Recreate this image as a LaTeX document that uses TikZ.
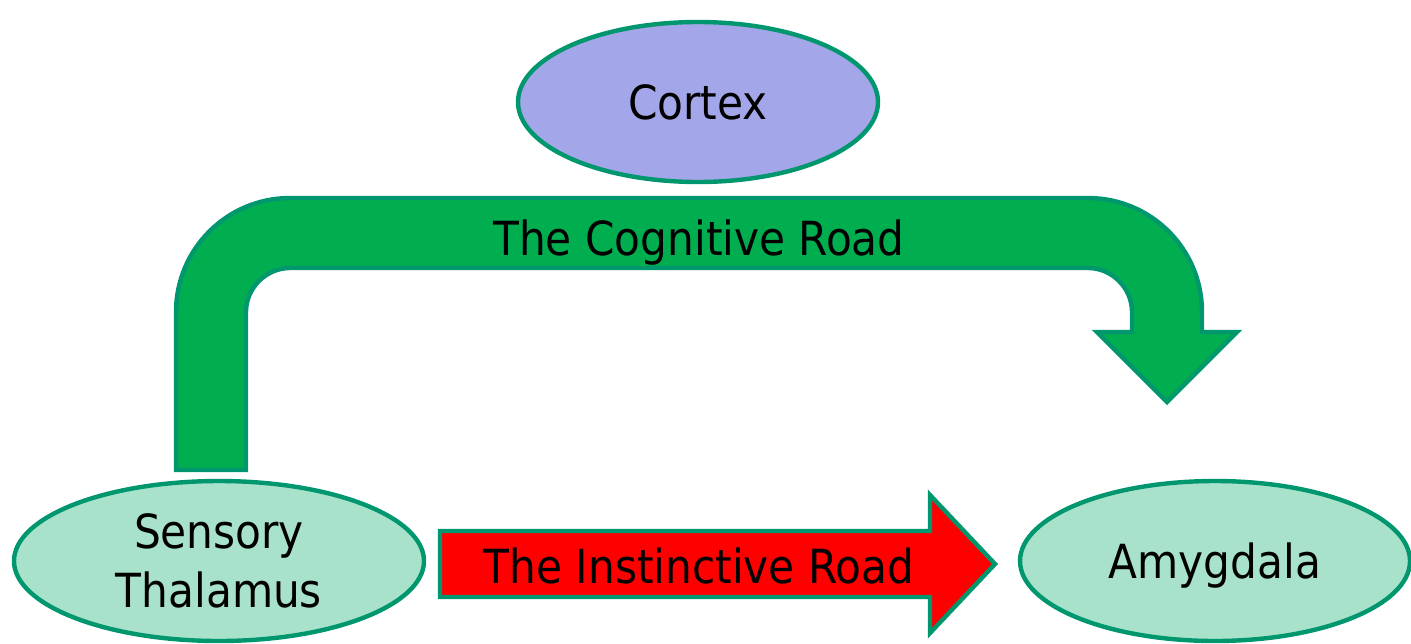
\documentclass[tikz,border=0pt]{standalone}
\usepackage{fontspec}
\setmainfont{DejaVu Sans Condensed}
\usepackage{tikz}
\usetikzlibrary{shapes.geometric,positioning}
\definecolor{softLavender}{RGB}{163,166,232}
\definecolor{softMint}{RGB}{168,226,202}
\definecolor{roadGreen}{RGB}{0,174,80}
\definecolor{edgeGreen}{RGB}{0,150,110}

\begin{document}
\begin{tikzpicture}[
      x=0.5pt, y=-0.5pt,
      region/.style={ellipse, draw=edgeGreen, line width=2.2pt, inner sep=0pt,
        minimum height=80pt, text depth=0pt, align=center,
        font=\fontsize{23.5}{29.5}\selectfont},
      road/.style={draw=edgeGreen, line width=2.2pt, line join=miter},
      roadtext/.style={anchor=base, inner sep=0pt, font=\fontsize{23.5}{29.5}\selectfont}
    ]
      \useasboundingbox (0,0) rectangle (1411,643);

      % the three brain regions
      \node[region, fill=softLavender, minimum width=180pt] (cortex) at (698,102) {Cortex};
      \node[region, fill=softMint, minimum width=205pt] (thalamus) at (219,561) {Sensory\\Thalamus};
      \node[region, fill=softMint, minimum width=195pt] (amygdala) at (1215,561) {Amygdala};

      % cognitive road: bent block arrow over the top
      \draw[road, fill=roadGreen]
        (176,470) -- (176,312) .. controls (176,249) and (227,198) .. (290,198)
        -- (1088,198) .. controls (1151,198) and (1202,249) .. (1202,312)
        -- (1202,332) -- (1237,332) -- (1167,402) -- (1097,332) -- (1132,332)
        -- (1132,312) .. controls (1132,288) and (1112,268) .. (1088,268)
        -- (290,268) .. controls (266,268) and (246,288) .. (246,312)
        -- (246,470) -- cycle;
      \node[roadtext] (cogRoad) at (699,255) {The Cognitive Road};

      % instinctive road: straight block arrow
      \draw[road, fill=red]
        (440,531) -- (930,531) -- (930,495) -- (995,564) -- (930,633)
        -- (930,597) -- (440,597) -- cycle;
      \node[roadtext] (instRoad) at (699,583) {The Instinctive Road};
    \end{tikzpicture}
\end{document}
